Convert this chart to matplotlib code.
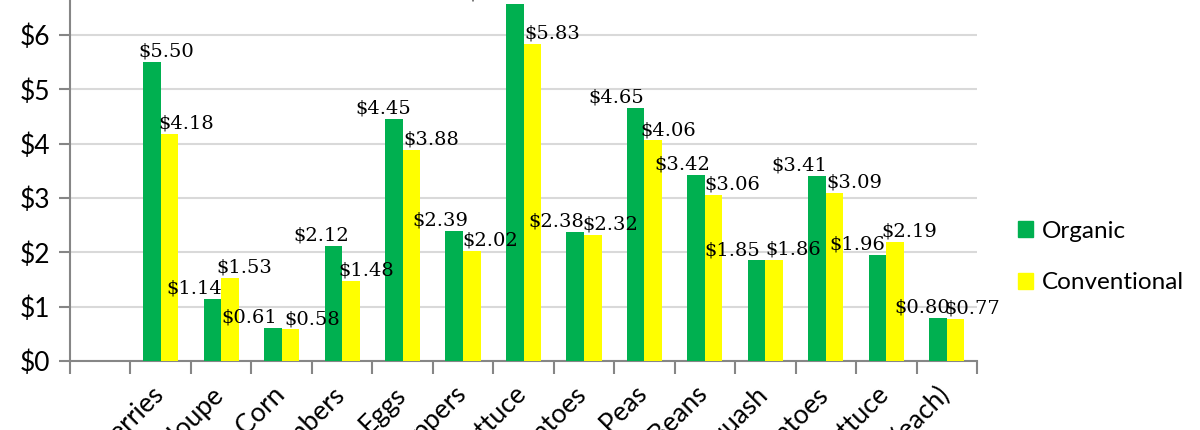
import matplotlib
matplotlib.use("Agg")
import matplotlib.pyplot as plt
from matplotlib.patches import Patch
import numpy as np

# Price per item, organic vs conventional
products = ["Strawberries", "Cantaloupe", "Sweet Corn", "Cucumbers", "Eggs",
            "Bell Peppers", "Head Lettuce", "Tomatoes", "Snap Peas", "Green Beans",
            "Squash", "Potatoes", "Leaf Lettuce", "Cabbage (each)"]
organic = [5.50, 1.14, 0.61, 2.12, 4.45, 2.39, 6.58, 2.38, 4.65, 3.42, 1.85, 3.41, 1.96, 0.80]
conventional = [4.18, 1.53, 0.58, 1.48, 3.88, 2.02, 5.83, 2.32, 4.06, 3.06, 1.86, 3.09, 2.19, 0.77]

# horizontal nudges of the value labels (pixels), the way Excel placed them
dx_org = [14, -18, -24, -12, -11, -14, -20, -19, -19, -14, -24, -18, -20, -16]
dx_conv = [17, 14, 22, 15, 20, 18, 20, 18, 15, 19, 19, 20, 14, 17]

green = "#00B050"
yellow = "#FFFF00"
axis_grey = "#868686"
grid_grey = "#D9D9D9"

fig = plt.figure(figsize=(12, 4.3), dpi=100)
ax = fig.add_axes([70 / 1200, 69 / 430, 907 / 1200, 380.3 / 430])

x = np.arange(len(products))
w = 0.29
b1 = ax.bar(x - w / 2, organic, w, color=green, label="Organic", zorder=3)
b2 = ax.bar(x + w / 2, conventional, w, color=yellow, label="Conventional", zorder=3)

px = 72 / 100
for bars, vals, dxs in ((b1, organic, dx_org), (b2, conventional, dx_conv)):
    for r, v, d in zip(bars, vals, dxs):
        ax.annotate("$%.2f" % v, (r.get_x() + r.get_width() / 2, v),
                    xytext=(d * px, 1), textcoords="offset points",
                    ha="center", va="bottom", fontsize=14,
                    family="DejaVu Serif", color="black", zorder=4,
                    annotation_clip=False)

ax.set_xlim(-1.5, len(products) - 0.5)
ax.set_ylim(0, 7)
ax.set_yticks(range(0, 8))
ax.set_yticklabels(["$%d" % v for v in range(0, 8)], family="Lato", fontsize=19)
ax.yaxis.grid(True, color=grid_grey, lw=1.5, zorder=0)
ax.set_axisbelow(True)

# category names, rotated like Excel does and anchored at their end
ax.set_xticks(x)
ax.set_xticklabels([])
for i, name in enumerate(products):
    ax.annotate(name, (i, 0), xycoords=("data", "axes fraction"),
                xytext=(-1 * px, -30 * px), textcoords="offset points",
                rotation=45, ha="right", va="center", rotation_mode="anchor",
                family="Lato", fontsize=19, annotation_clip=False)
ax.set_xticks(np.arange(-1.5, len(products)), minor=True)
ax.tick_params(axis="x", which="major", length=0)
ax.tick_params(axis="x", which="minor", length=9, width=1.5, color=axis_grey)
ax.tick_params(axis="y", length=8, width=1.5, color=axis_grey, pad=6)

for s in ("top", "right"):
    ax.spines[s].set_visible(False)
for s in ("left", "bottom"):
    ax.spines[s].set_color(axis_grey)
    ax.spines[s].set_linewidth(1.5)

handles = [Patch(color=green), Patch(color=yellow)]
fig.legend(handles, ["Organic", "Conventional"], loc="center left",
           bbox_to_anchor=(996 / 1200, 1 - 257 / 430), frameon=False,
           prop={"family": "Lato", "size": 17.5}, handlelength=0.62, handleheight=0.62,
           handletextpad=0.35, labelspacing=1.25)

fig.savefig("out.png", dpi=100)
